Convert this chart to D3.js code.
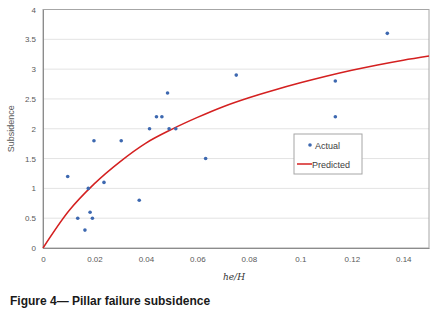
<!DOCTYPE html>
<html>
<head>
<meta charset="utf-8">
<script src="https://cdn.jsdelivr.net/npm/d3@7"></script>
<style>
  body { margin: 0; background: #fff; }
  svg text { font-family: "Liberation Sans", Arial, sans-serif; }
</style>
</head>
<body>
<svg id="chart" width="435" height="324"></svg>
<script>
// Actual points
var actualX = [0.0096, 0.0135, 0.0163, 0.0176, 0.0183, 0.0192, 0.0198, 0.0237, 0.0304, 0.0374,
               0.0414, 0.0441, 0.0462, 0.0484, 0.049, 0.0516, 0.0632, 0.0751, 0.1136, 0.1136, 0.1338];
var actualY = [1.2, 0.5, 0.3, 1.0, 0.6, 0.5, 1.8, 1.1, 1.8, 0.8,
               2.0, 2.2, 2.2, 2.6, 2.0, 2.0, 1.5, 2.9, 2.8, 2.2, 3.6];

// Predicted curve, sampled from the figure
var predX = [0, 0.01, 0.02, 0.03, 0.04, 0.05, 0.06, 0.07, 0.08, 0.09, 0.10, 0.11, 0.12, 0.13, 0.14, 0.15];
var predY = [0, 0.62, 1.08, 1.45, 1.76, 1.99, 2.19, 2.37, 2.52, 2.65, 2.77, 2.88, 2.98, 3.07, 3.15, 3.22];

var xTicks = [0, 0.02, 0.04, 0.06, 0.08, 0.1, 0.12, 0.14];
var yTicks = [0, 0.5, 1, 1.5, 2, 2.5, 3, 3.5, 4];

var svg = d3.select("#chart");
var plotL = 43, plotR = 429, plotT = 9.5, plotB = 248;

var x = d3.scaleLinear().domain([0, 0.15]).range([plotL, plotR]);
var y = d3.scaleLinear().domain([0, 4]).range([plotB, plotT]);

// gridlines
svg.append("g")
  .selectAll("line")
  .data(yTicks.slice(1, -1))
  .join("line")
  .attr("x1", plotL).attr("x2", plotR)
  .attr("y1", function(d) { return y(d); })
  .attr("y2", function(d) { return y(d); })
  .attr("stroke", "#e3e3e3")
  .attr("stroke-width", 1);

// plot border
svg.append("rect")
  .attr("x", plotL).attr("y", plotT)
  .attr("width", plotR - plotL).attr("height", plotB - plotT)
  .attr("fill", "none")
  .attr("stroke", "#a6a6a6")
  .attr("stroke-width", 1);

// axes
var xAxis = svg.append("g")
  .attr("transform", "translate(0," + plotB + ")")
  .call(d3.axisBottom(x).tickValues(xTicks).tickSize(0).tickPadding(8)
    .tickFormat(function(d) { return d === 0 ? "0" : String(+d.toFixed(2)); }));
var yAxis = svg.append("g")
  .attr("transform", "translate(" + plotL + ",0)")
  .call(d3.axisLeft(y).tickValues(yTicks).tickSize(0).tickPadding(7)
    .tickFormat(function(d) { return String(d); }));

[xAxis, yAxis].forEach(function(g) {
  g.select(".domain").attr("stroke", "#8c8c8c");
  g.selectAll("text").attr("fill", "#595959").attr("font-size", 8)
    .attr("font-family", "Liberation Sans, Arial, sans-serif");
});

// predicted line
var line = d3.line()
  .x(function(d, i) { return x(predX[i]); })
  .y(function(d) { return y(d); })
  .curve(d3.curveMonotoneX);

svg.append("path")
  .attr("d", line(predY))
  .attr("fill", "none")
  .attr("stroke", "#d42020")
  .attr("stroke-width", 1.5);

// actual dots
svg.append("g")
  .selectAll("circle")
  .data(actualY)
  .join("circle")
  .attr("cx", function(d, i) { return x(actualX[i]); })
  .attr("cy", function(d) { return y(d); })
  .attr("r", 1.8)
  .attr("fill", "#3d68b0");

// axis titles
svg.append("text")
  .attr("transform", "translate(14," + ((plotT + plotB) / 2) + ") rotate(-90)")
  .attr("text-anchor", "middle")
  .attr("font-size", 9)
  .attr("fill", "#595959")
  .text("Subsidence");

svg.append("text")
  .attr("x", (plotL + plotR) / 2 - 2)
  .attr("y", 280)
  .attr("text-anchor", "middle")
  .attr("font-size", 9)
  .attr("font-style", "italic")
  .attr("fill", "#333")
  .style("font-family", "DejaVu Serif, Liberation Serif, serif")
  .text("he/H");

// legend
var legend = svg.append("g").attr("transform", "translate(294,134)");
legend.append("rect")
  .attr("width", 68).attr("height", 40)
  .attr("fill", "#fff")
  .attr("stroke", "#a6a6a6");
legend.append("circle")
  .attr("cx", 16).attr("cy", 11).attr("r", 1.8).attr("fill", "#3d68b0");
legend.append("text")
  .attr("x", 21).attr("y", 14.5)
  .attr("font-size", 9).attr("fill", "#404040")
  .text("Actual");
legend.append("line")
  .attr("x1", 3).attr("x2", 18).attr("y1", 30).attr("y2", 30)
  .attr("stroke", "#d42020").attr("stroke-width", 1.5);
legend.append("text")
  .attr("x", 18).attr("y", 33.5)
  .attr("font-size", 9).attr("fill", "#404040")
  .text("Predicted");

// caption
svg.append("text")
  .attr("x", 10).attr("y", 305)
  .attr("font-size", 12)
  .attr("font-weight", "bold")
  .attr("fill", "#1a1a1a")
  .text("Figure 4\u2014 Pillar failure subsidence");
</script>
</body>
</html>
